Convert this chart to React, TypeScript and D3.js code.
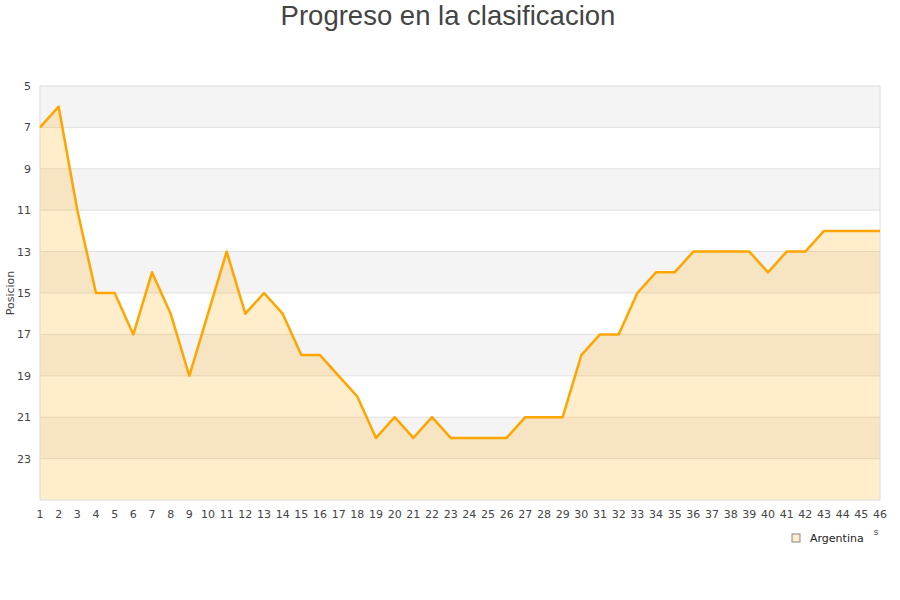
import React from "react";
import * as d3 from "d3";

const rounds: number[] = Array.from({ length: 46 }, (_, i) => i + 1);
const positions: number[] = [
  7, 6, 11, 15, 15, 17, 14, 16, 19, 16, 13, 16, 15, 16, 18, 18, 19, 20, 22, 21,
  22, 21, 22, 22, 22, 22, 21, 21, 21, 18, 17, 17, 15, 14, 14, 13, 13, 13, 13, 14,
  13, 13, 12, 12, 12, 12,
];
const yTicks: number[] = [5, 7, 9, 11, 13, 15, 17, 19, 21, 23];
const seriesName = "Argentina";
const title = "Progreso en la clasificacion";
const yTitle = "Posicion";

const W = 900;
const H = 600;
const left = 40;
const right = 880;
const top = 86;
const bottom = 500;

export default function App() {
  const x = d3.scaleLinear().domain([1, 46]).range([left, right]);
  const y = d3.scaleLinear().domain([5, 25]).range([top, bottom]);
  const line = d3
    .line<number>()
    .x((_, i) => x(rounds[i]))
    .y((d) => y(d));
  const area = d3
    .area<number>()
    .x((_, i) => x(rounds[i]))
    .y0(y(25))
    .y1((d) => y(d));
  const bands = yTicks.map((t, i) => ({ t, grey: i % 2 === 0 }));
  const font = "DejaVu Sans, sans-serif";
  return (
    <svg width={W} height={H} style={{ position: "absolute", left: 0, top: 0 }}>
      <rect x={0} y={0} width={W} height={H} fill="#fff" />
      <text
        x={448}
        y={25}
        textAnchor="middle"
        fontFamily="Liberation Sans, Arial, sans-serif"
        fontSize={27.5}
        fill="#444"
      >
        {title}
      </text>
      {bands.map((b) => (
        <rect
          key={b.t}
          x={left}
          y={y(b.t)}
          width={right - left}
          height={y(b.t + 2) - y(b.t)}
          fill={b.grey ? "#f4f4f4" : "#ffffff"}
        />
      ))}
      {yTicks.slice(1).map((t) => (
        <line key={t} x1={left} x2={right} y1={y(t)} y2={y(t)} stroke="#e0e0e0" strokeWidth={1} />
      ))}
      <path d={area(positions) || ""} fill="#FFA500" fillOpacity={0.2} />
      <rect x={left} y={top} width={right - left} height={bottom - top} fill="none" stroke="#dcdcdc" strokeWidth={1} />
      <path d={line(positions) || ""} fill="none" stroke="#FFA500" strokeWidth={2.5} strokeLinejoin="round" />
      {yTicks.map((t) => (
        <text key={t} x={31} y={y(t) + 4} textAnchor="end" fontFamily={font} fontSize={11} fill="#444">
          {t}
        </text>
      ))}
      <text
        transform={`translate(14,${293}) rotate(-90)`}
        textAnchor="middle"
        fontFamily={font}
        fontSize={11}
        fill="#444"
      >
        {yTitle}
      </text>
      {rounds.map((r) => (
        <text key={r} x={x(r)} y={518} textAnchor="middle" fontFamily={font} fontSize={11} fill="#444">
          {r}
        </text>
      ))}
      <text x={876} y={535} textAnchor="middle" fontFamily={font} fontSize={9} fill="#444">
        s
      </text>
      <rect x={792} y={534} width={8} height={8} fill="#FFEDCC" stroke="#888" strokeWidth={1} />
      <text x={810} y={542} fontFamily={font} fontSize={11} fill="#222">
        {seriesName}
      </text>
    </svg>
  );
}
